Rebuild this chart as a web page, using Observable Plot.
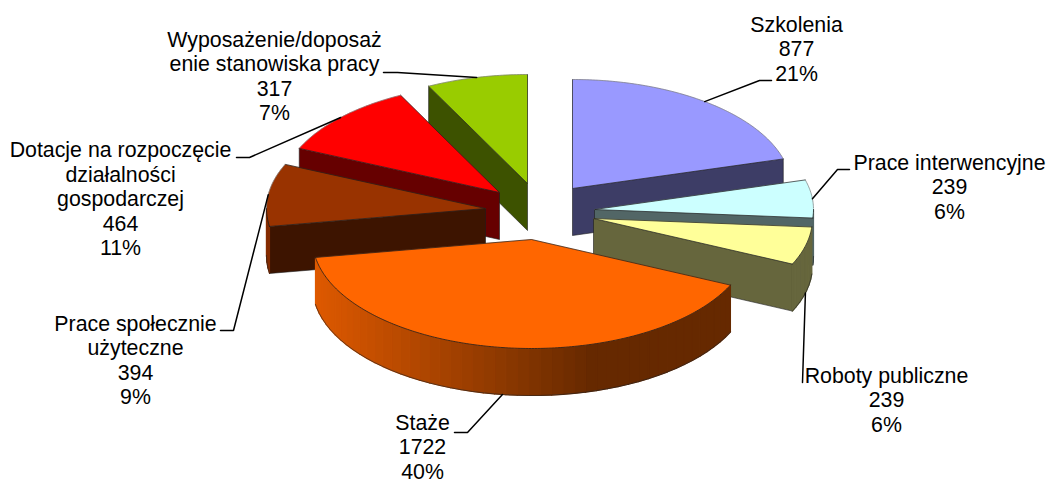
<!DOCTYPE html>
<html>
<head>
<meta charset="utf-8">
<script src="https://cdn.jsdelivr.net/npm/d3@7"></script>
<script src="https://cdn.jsdelivr.net/npm/@observablehq/plot@0.6"></script>
<style>html,body{margin:0;padding:0;background:#fff}svg{display:block}</style>
</head>
<body>
<div id="chart"></div>
<script>
const names = ["Szkolenia","Prace interwencyjne","Roboty publiczne","Staże","Prace społecznie\nużyteczne","Dotacje na rozpoczęcie\ndziałalności\ngospodarczej","Wyposażenie/doposaż\nenie stanowiska pracy"];
const values = [877,239,239,1722,394,464,317];
const colors = ["#9999FF","#CCFFFF","#FFFF99","#FF6600","#993300","#FF0000","#99CC00"];

// layout of the exploded pie (drawing space = pixels)
const apexX = [572,594,593,531,485,499,527];
const apexY = [188,209,218,239,208,192,183];
const labelX = [796,949,886,422,135,120,274];
const labelY = [48,186,399,446,359,198,75];
const elbows = [[[759,80],[771,80]],[[837,169],[849,169]],[[802,382]],[[467,432],[454,432]],[[233,330],[220,330]],[[249,157],[236,157]],[[397,72],[383,72]]];
const drawOrder = [6,5,4,0,1,2,3];
const RX = 219, RY = 109, DEPTH = 47;

const total = d3.sum(values);
const arcs = d3.pie().sort(null).value(d => d)(values);
const px = (i,t,down=0) => [apexX[i] + RX*Math.sin(t), apexY[i] - RY*Math.cos(t) + down];
const shadeOf = t => 0.4 + 0.47*Math.max(0, Math.min(1, (0.27 - Math.sin(t))/1.256));
const mix = (c,k) => { const r = d3.rgb(c); return d3.rgb(r.r*k, r.g*k, r.b*k).formatHex(); };
const range = (a,b,step) => { const o=[]; for(let t=a;t<b-1e-9;t+=step) o.push(t); o.push(b); return o; };

const rows = [];
let uid = 0;
function poly(pts, fill, stroke, sw) {
  const id = uid++;
  for (const [x,y] of pts) rows.push({id,x,y,fill,stroke,sw});
}
const EDGE = "#1c1c1c", SOFT = "#7a7a7a", STEP = Math.PI/60;
for (const i of drawOrder) {
  const {startAngle:a0, endAngle:a1} = arcs[i];
  const top = colors[i], wall = mix(top,0.4);
  const A = [apexX[i],apexY[i]], Ad = [apexX[i],apexY[i]+DEPTH];
  if (Math.sin(a0) < -1e-6) { const p=px(i,a0), q=px(i,a0,DEPTH); poly([A,p,q,Ad,A],wall,EDGE,0.6); }
  if (Math.sin(a1) > 1e-6)  { const p=px(i,a1), q=px(i,a1,DEPTH); poly([A,p,q,Ad,A],wall,EDGE,0.6); }
  const r0 = Math.max(a0,Math.PI/2), r1 = Math.min(a1,3*Math.PI/2);
  if (r1 > r0) {
    const ts = range(r0,r1,STEP);
    for (let k=0;k<ts.length-1;k++) {
      const c = mix(top,shadeOf((ts[k]+ts[k+1])/2));
      poly([px(i,ts[k]),px(i,ts[k+1]),px(i,ts[k+1],DEPTH),px(i,ts[k],DEPTH),px(i,ts[k])],c,c,1.2);
    }
    poly(ts.map(t=>px(i,t,DEPTH)),"none","#222",0.6);
  }
  const ts = range(a0,a1,STEP/4);
  poly([A,...ts.map(t=>px(i,t)),A],top,top,0.3);
  poly([px(i,a0),A,px(i,a1)],"none",EDGE,0.7);
  const frontArc = r1 > r0;
  if (frontArc) poly(range(r0,r1,STEP/4).map(t=>px(i,t)),"none",EDGE,0.8);
  poly(ts.filter(t=>t<=Math.PI/2||t>=3*Math.PI/2).map(t=>px(i,t)),"none",SOFT,0.7);
}

const leaders = [];
const labels = [];
values.forEach((v,i) => {
  const m = (arcs[i].startAngle+arcs[i].endAngle)/2;
  const visibleRim = m > Math.PI/2 && m < 3*Math.PI/2;
  const s = px(i,m,visibleRim?DEPTH:0);
  [s,...elbows[i]].forEach(([x,y]) => leaders.push({i,x,y}));
  labels.push({x:labelX[i],y:labelY[i],text:`${names[i]}\n${v}\n${Math.round(v/total*100)}%`});
});

const chart = Plot.plot({
  width:1048, height:483, margin:0,
  x:{type:"identity",axis:null}, y:{type:"identity",axis:null},
  style:{background:"#fff",fontFamily:"'Liberation Sans',Arial,sans-serif"},
  marks:[
    Plot.line(rows,{x:"x",y:"y",z:"id",fill:"fill",stroke:"stroke",strokeWidth:"sw",curve:"linear",strokeLinejoin:"round"}),
    Plot.line(leaders,{x:"x",y:"y",z:"i",stroke:"#000",strokeWidth:1.5,curve:"linear",strokeLinejoin:"miter"}),
    Plot.text(labels,{x:"x",y:"y",text:"text",fontSize:21.33,lineHeight:1.15,fill:"#000",textAnchor:"middle"})
  ]
});
document.getElementById("chart").appendChild(chart);
</script>
</body>
</html>
